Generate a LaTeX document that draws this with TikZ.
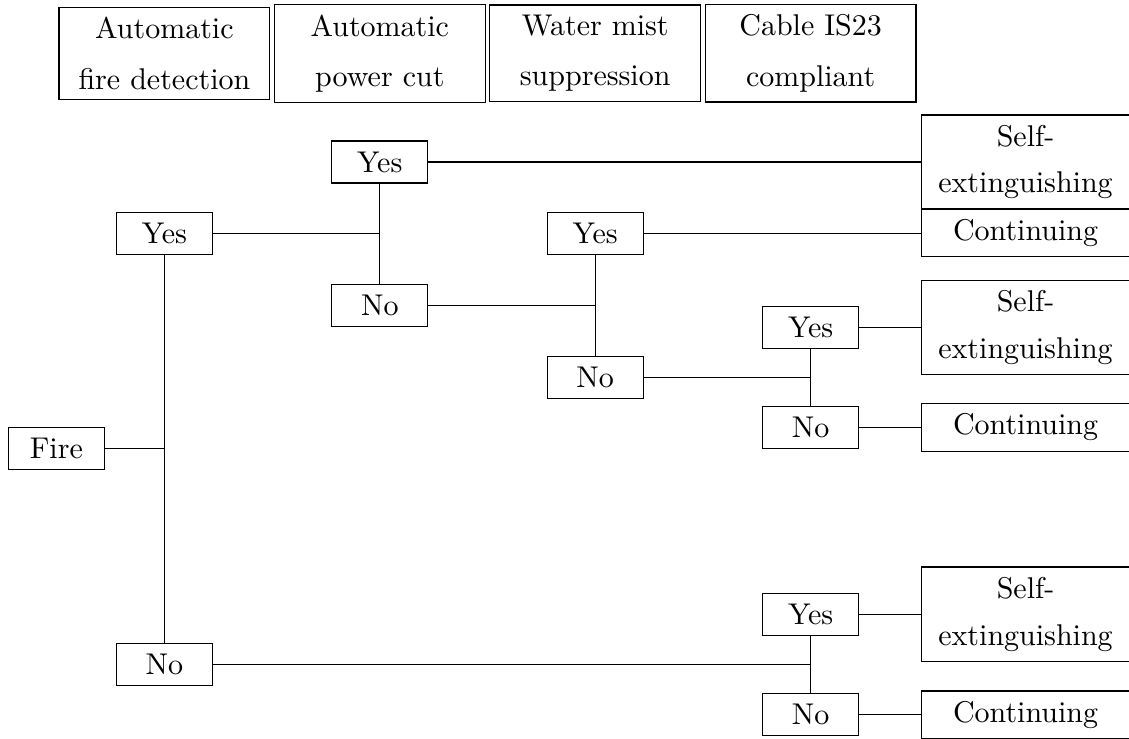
\documentclass[tikz,border=0pt]{standalone}
\usepackage{tikz}

\tikzset{
  header/.style={draw, align=center, text width=63.6pt, font=\linespread{1.4}\selectfont},
  choice/.style={draw, minimum width=32pt, minimum height=14pt},
  outcome/.style={draw, align=center, text width=62.6pt, anchor=west, font=\linespread{1.3}\selectfont}
}

\begin{document}
\begin{tikzpicture}
\useasboundingbox (0pt,0pt) rectangle (376.33pt,-246pt);
% column headers
\node[header] (h1) at (54.8pt,-17.8pt) {Automatic\\fire detection};
\node[header] (h2) at (126.6pt,-17.8pt) {Automatic\\power cut};
\node[header] (h3) at (198.4pt,-17.8pt) {Water mist\\suppression};
\node[header] (h4) at (270.2pt,-17.8pt) {Cable IS23\\compliant};
% tree
\node[choice] (fire) at (18.8pt,-149.5pt) {Fire};
\node[choice] (y1) at (54.8pt,-77.7pt) {Yes};
\node[choice] (n1) at (54.8pt,-221.5pt) {No};
\node[choice] (y2) at (126.6pt,-54pt) {Yes};
\node[choice] (n2) at (126.6pt,-101.7pt) {No};
\node[choice] (y3) at (198.4pt,-77.7pt) {Yes};
\node[choice] (n3) at (198.4pt,-125.7pt) {No};
\node[choice] (y4) at (270.2pt,-109.2pt) {Yes};
\node[choice] (n4) at (270.2pt,-142.5pt) {No};
\node[choice] (y5) at (270.2pt,-204.7pt) {Yes};
\node[choice] (n5) at (270.2pt,-238.2pt) {No};
% results
\node[outcome] (s1) at (307pt,-54pt) {Self-\\extinguishing};
\node[outcome] (c1) at (307pt,-77.7pt) {Continuing};
\node[outcome] (s2) at (307pt,-109.2pt) {Self-\\extinguishing};
\node[outcome] (c2) at (307pt,-142.5pt) {Continuing};
\node[outcome] (s3) at (307pt,-204.7pt) {Self-\\extinguishing};
\node[outcome] (c3) at (307pt,-238.2pt) {Continuing};
% branches
\draw (y1) -- (n1);
\draw (fire) -- (fire -| y1);
\draw (y2) -- (n2);
\draw (y1) -- (y1 -| y2);
\draw (y3) -- (n3);
\draw (n2) -- (n2 -| y3);
\draw (y4) -- (n4);
\draw (n3) -- (n3 -| y4);
\draw (y5) -- (n5);
\draw (n1) -- (n1 -| y5);
\draw (y2) -- (s1);
\draw (y3) -- (c1);
\draw (y4) -- (s2);
\draw (n4) -- (c2);
\draw (y5) -- (s3);
\draw (n5) -- (c3);
\end{tikzpicture}
\end{document}
